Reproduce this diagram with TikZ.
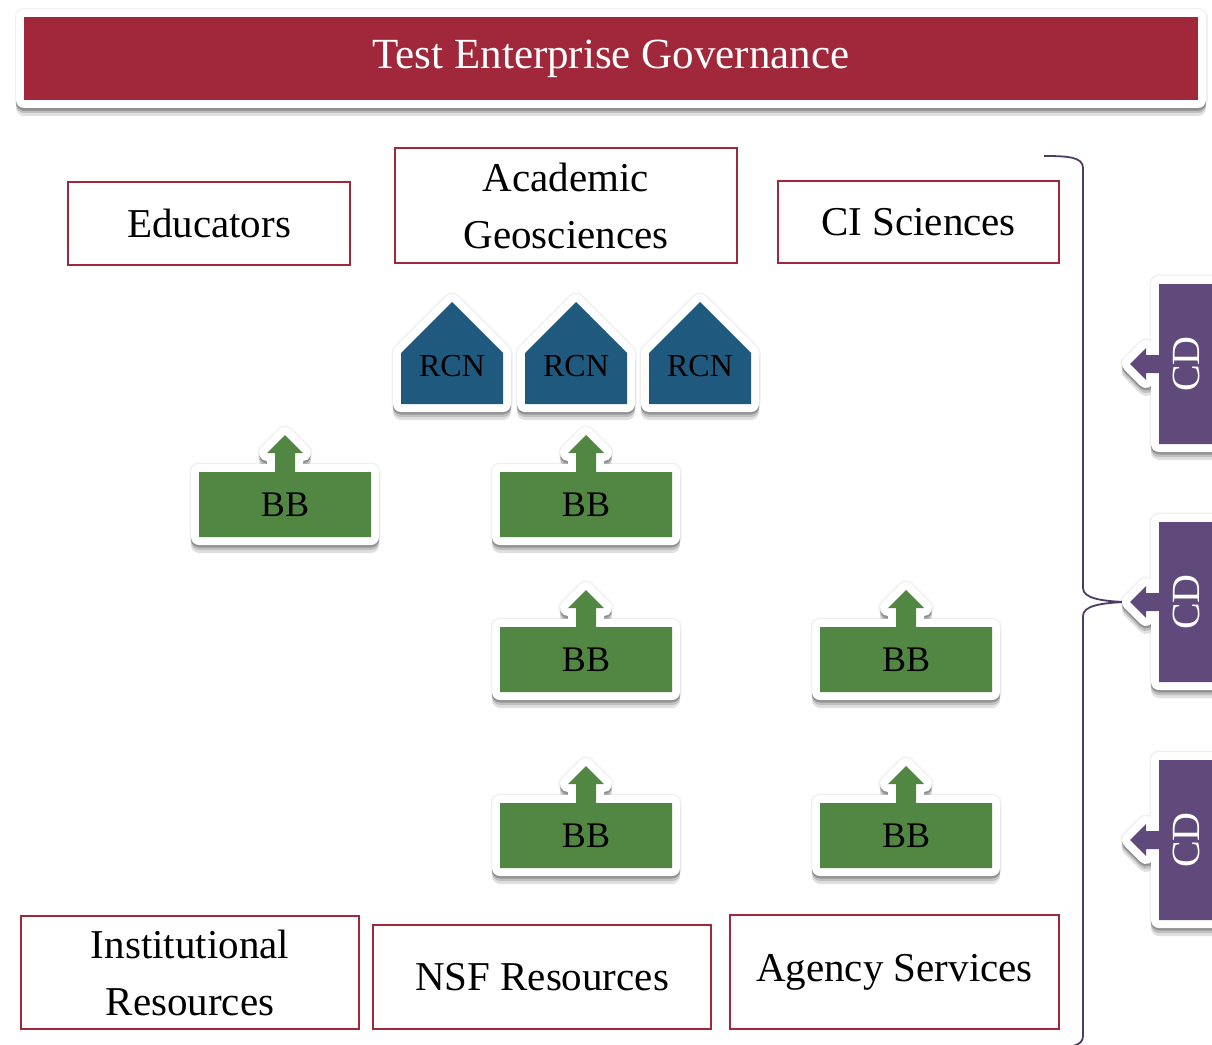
\documentclass[tikz,border=0pt]{standalone}
\usepackage{fontspec}
\setmainfont{Liberation Serif}
\usetikzlibrary{shadows}

\definecolor{govred}{RGB}{160,40,58}
\definecolor{rcnblue}{RGB}{31,89,125}
\definecolor{bbgreen}{RGB}{81,135,67}
\definecolor{cdpurple}{RGB}{96,74,123}

% house shaped RCN tile: name, centre x
\newcommand\rcntile[2]{%
  \path[tile,fill=rcnblue] (#2-51,404) -- (#2-51,353) -- (#2,302)
    -- (#2+51,353) -- (#2+51,404) -- cycle;
  \node(#1) at (#2,366) {\fontsize{32}{38}\selectfont RCN};
}
% BB tile with arrow on top: name, centre x, top y
\newcommand\bbtile[3]{%
  \path[tile,fill=bbgreen] (#2-86,#3+65) -- (#2-86,#3) -- (#2-10,#3)
    -- (#2-10,#3-19) -- (#2-18,#3-19) -- (#2,#3-37) -- (#2+18,#3-19)
    -- (#2+10,#3-19) -- (#2+10,#3) -- (#2+86,#3) -- (#2+86,#3+65) -- cycle;
  \node(#1) at (#2,#3+33) {\fontsize{36}{42}\selectfont BB};
}
% CD tile with arrow to the left: name, centre y
\newcommand\cdtile[2]{%
  \path[tile,fill=cdpurple] (1250,#2-80) -- (1159,#2-80) -- (1159,#2-9)
    -- (1146,#2-9) -- (1146,#2-16) -- (1130,#2) -- (1146,#2+16)
    -- (1146,#2+9) -- (1159,#2+9) -- (1159,#2+80) -- (1250,#2+80) -- cycle;
  \node(#1)[rotate=90,text=white] at (1186,#2) {\fontsize{40}{46}\selectfont CD};
}

\begin{document}
\begin{tikzpicture}[x=1pt,y=-1pt,
    every node/.style={inner sep=0,outer sep=0},
    shade line/.style={fill=black,draw=black,line width=16pt,line join=round},
    tile/.style={general shadow={shadow yshift=0pt,shade line,line width=19pt,opacity=.06},
                 general shadow={shadow yshift=-8pt,shade line,opacity=.12},
                 general shadow={shadow yshift=-5pt,shade line,opacity=.15},
                 general shadow={shadow yshift=-2.5pt,shade line,opacity=.2},
                 preaction={draw=white,line width=16pt,line join=round}},
    box/.style={draw=govred,line width=2.5pt,align=center,
                font=\fontsize{41}{57}\selectfont},
    brace line/.style={draw=cdpurple!80!black,line width=1.8pt}]
  \useasboundingbox (0,0) rectangle (1212,1044);
  \clip (0,0) rectangle (1212,1044);

  \node(gov)[tile,fill=govred,minimum width=1174,minimum height=83,text=white,
             font=\fontsize{43}{50}\selectfont] at (611,58.5) {Test Enterprise Governance};

  % top row
  \node(edu)[box,minimum width=282,minimum height=83] at (209,223.5) {Educators};
  \node(acad)[box,minimum width=342,minimum height=115] at (566,205.5) {Academic\\Geosciences};
  \node(ci)[box,minimum width=281,minimum height=82] at (918.5,222) {CI Sciences};

  % RCN
  \rcntile{rcn1}{452}
  \rcntile{rcn2}{576}
  \rcntile{rcn3}{700}

  % BB
  \bbtile{bb1}{285}{472}
  \bbtile{bb2}{586}{472}
  \bbtile{bb3}{586}{627}
  \bbtile{bb4}{906}{627}
  \bbtile{bb5}{586}{803}
  \bbtile{bb6}{906}{803}

  % bottom row
  \node(inst)[box,minimum width=338,minimum height=113] at (190,972.5) {Institutional\\Resources};
  \node(nsf)[box,minimum width=338,minimum height=104] at (542,977) {NSF Resources};
  \node(agency)[box,minimum width=329,minimum height=114] at (894.5,972) {Agency Services};

  % brace
  \draw[brace line] (1044,156) .. controls (1068,156) and (1083,157) .. (1083,168)
    -- (1083,588) .. controls (1083,598) and (1100,601) .. (1125,602)
    .. controls (1100,603) and (1083,606) .. (1083,616)
    -- (1083,1036) .. controls (1083,1047) and (1068,1048) .. (1044,1048);

  % CD
  \cdtile{cd1}{364}
  \cdtile{cd2}{602}
  \cdtile{cd3}{840}
\end{tikzpicture}
\end{document}
